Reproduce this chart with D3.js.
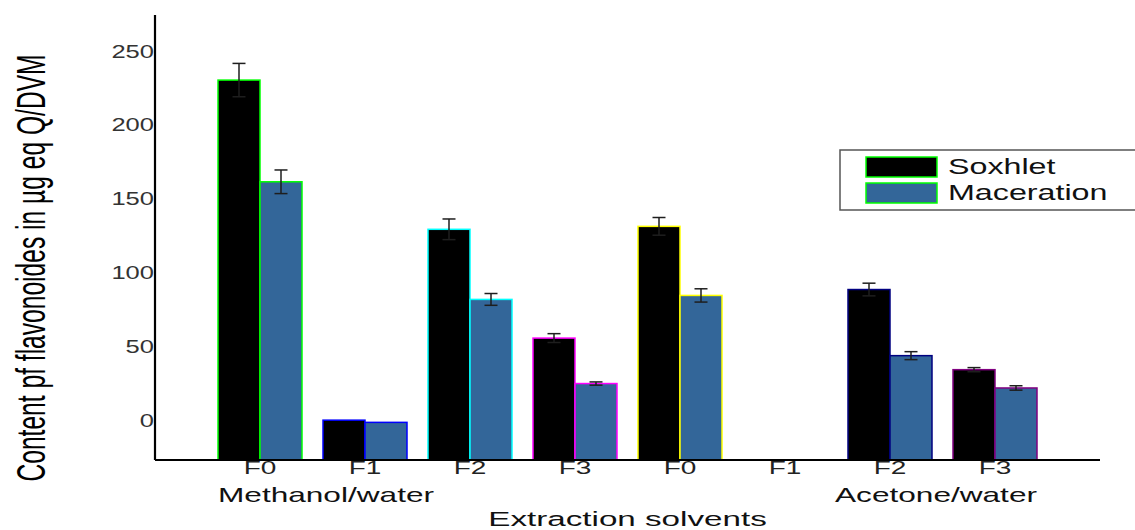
<!DOCTYPE html>
<html>
<head>
<meta charset="utf-8">
<script src="https://cdn.jsdelivr.net/npm/d3@7"></script>
<style>
  body { margin: 0; background: #fff; }
  text { font-family: "Liberation Sans", Arial, sans-serif; }
</style>
</head>
<body>
<div id="chart"></div>
<script>
// Data
const categories = ["F0", "F1", "F2", "F3", "F0", "F1", "F2", "F3"];
const solvents = ["Methanol/water", "Acetone/water"];
const series = ["Soxhlet", "Maceration"];
const soxhlet = [230.4, 0, 129.3, 55.6, 131.3, null, 88.5, 34.2];
const soxhletErr = [11.3, 0, 7, 3, 6, null, 4.3, 1.4];
const maceration = [161.5, -1.5, 81.8, 24.8, 84.5, null, 43.7, 21.8];
const macerationErr = [8, 0, 4, 1.1, 4.5, null, 2.7, 1.5];
const yTicks = [0, 50, 100, 150, 200, 250];

// Styles
const seriesColor = ["#000000", "#336699"];
const outlineColor = ["#00ff00", "#0000ff", "#00ffff", "#ff00ff", "#ffff00", "#000000", "#000080", "#800080"];
const sx = 1.6; // text in the picture is stretched sideways

const W = 1135, H = 530;
const plot = { left: 155, right: 1100, top: 15, bottom: 460 };

const svg = d3.select("#chart").append("svg")
    .attr("width", W)
    .attr("height", H);

const x = d3.scaleBand()
    .domain(d3.range(categories.length))
    .range([plot.left, plot.right])
    .paddingInner(0.2)
    .paddingOuter(0.6);

const xSub = d3.scaleBand()
    .domain(series)
    .range([0, x.bandwidth()]);

const y = d3.scaleLinear()
    .domain([-27, 274.5])
    .range([plot.bottom, plot.top]);

const rows = categories.map((c, i) => ({
    i: i, cat: c,
    vals: [
        { key: "Soxhlet", v: soxhlet[i], e: soxhletErr[i] },
        { key: "Maceration", v: maceration[i], e: macerationErr[i] }
    ]
}));

// bars
const grp = svg.selectAll("g.cat")
    .data(rows)
    .join("g")
    .attr("class", "cat")
    .attr("transform", d => `translate(${x(d.i)},0)`);

grp.selectAll("rect")
    .data(d => d.vals.filter(v => v.v !== null).map(v => Object.assign({ i: d.i }, v)))
    .join("rect")
    .attr("x", d => xSub(d.key))
    .attr("width", xSub.bandwidth())
    .attr("y", d => y(d.v))
    .attr("height", d => y.range()[0] - y(d.v))
    .attr("fill", d => seriesColor[series.indexOf(d.key)])
    .attr("stroke", d => outlineColor[d.i])
    .attr("stroke-width", 1.5);

// error bars
const eb = grp.selectAll("g.err")
    .data(d => d.vals.filter(v => v.v !== null && v.e > 0))
    .join("g")
    .attr("class", "err")
    .attr("stroke", "#1e1e1e")
    .attr("stroke-width", 1.5);

eb.append("line")
    .attr("x1", d => xSub(d.key) + xSub.bandwidth() / 2)
    .attr("x2", d => xSub(d.key) + xSub.bandwidth() / 2)
    .attr("y1", d => y(d.v + d.e))
    .attr("y2", d => y(d.v - d.e));
[1, -1].forEach(s => {
    eb.append("line")
        .attr("x1", d => xSub(d.key) + xSub.bandwidth() / 2 - 6.5)
        .attr("x2", d => xSub(d.key) + xSub.bandwidth() / 2 + 6.5)
        .attr("y1", d => y(d.v + s * d.e))
        .attr("y2", d => y(d.v + s * d.e));
});

// axes
svg.append("line")
    .attr("x1", plot.left).attr("x2", plot.left)
    .attr("y1", plot.top).attr("y2", plot.bottom)
    .attr("stroke", "#000").attr("stroke-width", 2.2);
svg.append("line")
    .attr("x1", plot.left).attr("x2", plot.right)
    .attr("y1", plot.bottom).attr("y2", plot.bottom)
    .attr("stroke", "#000").attr("stroke-width", 2.2);

// y tick labels
svg.selectAll("text.ytick")
    .data(yTicks)
    .join("text")
    .attr("class", "ytick")
    .attr("transform", d => `translate(${plot.left - 1},${y(d) + 6.5}) scale(1.38,1)`)
    .attr("text-anchor", "end")
    .attr("font-size", 18.5)
    .attr("fill", "#333")
    .text(d => d);

// x category labels
svg.selectAll("text.xtick")
    .data(rows)
    .join("text")
    .attr("class", "xtick")
    .attr("transform", d => `translate(${x(d.i) + x.bandwidth() / 2},474) scale(${sx},1)`)
    .attr("text-anchor", "middle")
    .attr("font-size", 17.5)
    .attr("fill", "#222")
    .text(d => d.cat);

// solvent group labels
svg.append("text")
    .attr("transform", `translate(${x(0)},502) scale(1.58,1)`)
    .attr("font-size", 20)
    .attr("fill", "#111")
    .text(solvents[0]);
svg.append("text")
    .attr("transform", `translate(${x(categories.length - 1) + x.bandwidth()},502) scale(1.58,1)`)
    .attr("text-anchor", "end")
    .attr("font-size", 20)
    .attr("fill", "#111")
    .text(solvents[1]);

// axis titles
svg.append("text")
    .attr("transform", `translate(${(plot.left + plot.right) / 2},526) scale(1.62,1)`)
    .attr("text-anchor", "middle")
    .attr("font-size", 20.5)
    .attr("fill", "#111")
    .text("Extraction solvents");

svg.append("text")
    .attr("transform", `translate(45,268) scale(1.62,1) rotate(-90)`)
    .attr("text-anchor", "middle")
    .attr("font-size", 24.6)
    .attr("fill", "#000")
    .text("Content pf flavonoides in µg eq Q/DVM");

// legend
const legend = svg.append("g").attr("transform", "translate(840,150)");
legend.append("rect")
    .attr("width", 300).attr("height", 60)
    .attr("fill", "#fff")
    .attr("stroke", "#555").attr("stroke-width", 1.5);
const li = legend.selectAll("g.item")
    .data(series)
    .join("g")
    .attr("class", "item")
    .attr("transform", (d, i) => `translate(26,${7 + i * 26})`);
li.append("rect")
    .attr("width", 71).attr("height", 20)
    .attr("fill", (d, i) => seriesColor[i])
    .attr("stroke", "#00ff00").attr("stroke-width", 1.5);
li.append("text")
    .attr("transform", "translate(82,16.5) scale(1.5,1)")
    .attr("font-size", 21.5)
    .attr("fill", "#111")
    .text(d => d);
</script>
</body>
</html>
